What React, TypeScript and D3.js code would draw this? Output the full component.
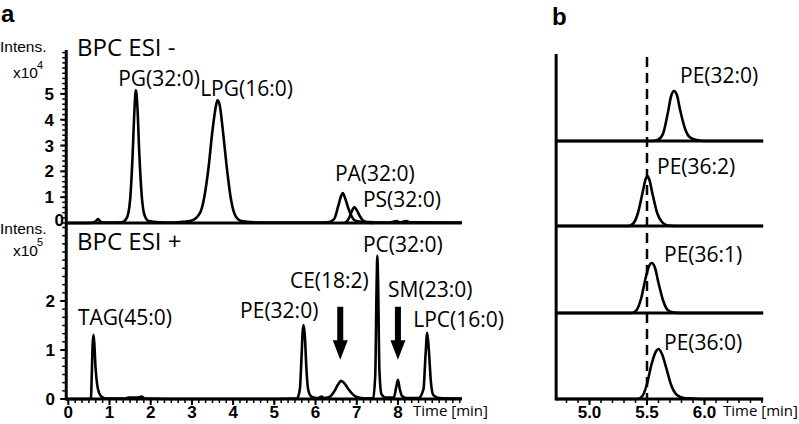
import React from "react";
import * as d3 from "d3";

// ---------- DATA ----------
// Panel a, top trace: BPC ESI - (time [min], intensity x10^4)
const esiNeg: [number, number][] = [
  [-0.05, 0], [0.5, 0], [0.65, 0.05], [0.72, 0.15], [0.8, 0.03], [1.0, 0.02], [1.3, 0.03],
  [1.42, 0.2], [1.5, 0.9], [1.56, 2.6], [1.6, 4.2], [1.64, 5.15], [1.68, 4.4], [1.72, 2.8],
  [1.78, 1.1], [1.85, 0.3], [1.95, 0.08], [2.2, 0.03], [2.6, 0.02], [2.8, 0.05], [3.0, 0.1],
  [3.2, 0.4], [3.3, 1.0], [3.4, 2.1], [3.5, 3.6], [3.58, 4.5], [3.62, 4.75], [3.67, 4.6],
  [3.75, 3.6], [3.85, 2.1], [3.95, 0.9], [4.05, 0.3], [4.2, 0.08], [4.5, 0.03], [5.0, 0.02],
  [5.5, 0.02], [6.0, 0.02], [6.3, 0.03], [6.45, 0.15], [6.55, 0.65], [6.62, 1.05], [6.66, 1.16],
  [6.72, 0.95], [6.8, 0.55], [6.88, 0.25], [6.95, 0.1], [7.1, 0.05], [7.4, 0.03], [7.8, 0.02],
  [7.97, 0.08], [8.05, 0.02], [8.2, 0.08], [8.3, 0.03], [9.55, 0.02],
];
// overlaid PS(32:0) trace
const esiNegPS: [number, number][] = [
  [6.72, 0], [6.8, 0.15], [6.88, 0.45], [6.94, 0.62], [7.0, 0.5], [7.08, 0.25], [7.15, 0.1],
  [7.25, 0.03], [7.4, 0],
];
// Panel a, bottom trace: BPC ESI + (time [min], intensity x10^5)
const esiPos: [number, number][] = [
  [-0.05, 0], [0.5, 0], [0.55, 0.02], [0.57, 0.5], [0.59, 1.1], [0.61, 1.31], [0.63, 1.15],
  [0.66, 0.65], [0.7, 0.3], [0.75, 0.12], [0.82, 0.04], [0.9, 0.01], [1.4, 0.01], [1.45, 0.03],
  [1.7, 0.03], [1.78, 0.05], [1.85, 0.01], [2.5, 0], [5.0, 0], [5.55, 0.01], [5.62, 0.2],
  [5.66, 0.85], [5.69, 1.4], [5.71, 1.51], [5.74, 1.3], [5.78, 0.6], [5.82, 0.2], [5.9, 0.05],
  [6.05, 0.02], [6.15, 0.05], [6.2, 0.02], [6.35, 0.05], [6.45, 0.15], [6.55, 0.3], [6.62, 0.37],
  [6.7, 0.32], [6.8, 0.2], [6.9, 0.1], [7.0, 0.04], [7.2, 0.01], [7.4, 0.02], [7.45, 0.5],
  [7.48, 2.2], [7.5, 2.92], [7.52, 2.3], [7.55, 0.6], [7.6, 0.1], [7.7, 0.03], [7.9, 0.03],
  [7.96, 0.25], [8.0, 0.39], [8.04, 0.22], [8.1, 0.06], [8.2, 0.02], [8.5, 0.02], [8.62, 0.2],
  [8.67, 0.9], [8.71, 1.35], [8.75, 1.0], [8.8, 0.35], [8.86, 0.08], [9.0, 0.02], [9.55, 0.01],
];
// Panel b: extracted ion chromatograms (time [min], normalised intensity)
const bNames = ["PE(32:0)", "PE(36:2)", "PE(36:1)", "PE(36:0)"];
const bTraces: [number, number][][] = [
  [[4.71, 0], [5.55, 0], [5.6, 0.03], [5.64, 0.15], [5.68, 0.55], [5.71, 0.9], [5.735, 1.0],
   [5.76, 0.92], [5.79, 0.6], [5.83, 0.25], [5.87, 0.08], [5.93, 0.02], [6.0, 0], [6.51, 0]],
  [[4.71, 0], [5.34, 0], [5.38, 0.05], [5.42, 0.25], [5.46, 0.65], [5.49, 0.95], [5.505, 1.0],
   [5.52, 0.93], [5.55, 0.62], [5.59, 0.25], [5.63, 0.08], [5.68, 0.01], [5.75, 0], [6.51, 0]],
  [[4.71, 0], [5.37, 0], [5.41, 0.06], [5.45, 0.3], [5.49, 0.72], [5.52, 0.95], [5.54, 1.0],
   [5.57, 0.9], [5.6, 0.6], [5.64, 0.25], [5.68, 0.06], [5.73, 0.01], [5.8, 0], [6.51, 0]],
  [[4.71, 0], [5.42, 0], [5.46, 0.06], [5.5, 0.3], [5.54, 0.7], [5.58, 0.96], [5.6, 1.0],
   [5.63, 0.9], [5.67, 0.6], [5.71, 0.28], [5.76, 0.08], [5.82, 0.02], [5.9, 0.01], [6.0, 0], [6.51, 0]],
];
const xTicksA = [0, 1, 2, 3, 4, 5, 6, 7, 8];
const yTicksTop = [1, 2, 3, 4, 5];
const yTicksBot = [0, 1, 2];
const xTicksB = [5.0, 5.5, 6.0];
const labelsTop = [
  { text: "PG(32:0)", t: 1.21, v: 5.31 },
  { text: "LPG(16:0)", t: 3.2, v: 4.92 },
  { text: "PA(32:0)", t: 6.47, v: 1.63 },
  { text: "PS(32:0)", t: 7.15, v: 0.62 },
];
const labelsBot = [
  { text: "TAG(45:0)", t: 0.235, v: 1.51 },
  { text: "PE(32:0)", t: 4.17, v: 1.65 },
  { text: "CE(18:2)", t: 5.38, v: 2.27 },
  { text: "PC(32:0)", t: 7.15, v: 3.0 },
  { text: "SM(23:0)", t: 7.76, v: 2.08 },
  { text: "LPC(16:0)", t: 8.37, v: 1.47 },
];
const arrowTimes = [6.6, 8.0];
const bLabelPos = [
  { t: 5.787, v: 1.16 },
  { t: 5.587, v: 1.04 },
  { t: 5.648, v: 1.02 },
  { t: 5.648, v: 0.98 },
];
const refTime = 5.5;

// ---------- LAYOUT ----------
const W = 799, H = 424;
const LBL = "'Open Sans', sans-serif";
const NUM = "'Liberation Sans', Arial, sans-serif";

export default function App() {
  const xA = d3.scaleLinear().domain([0, 9.55]).range([68.3, 461.8]);
  const axL = xA(-0.05);
  const axR = xA(9.55);
  const yTop = d3.scaleLinear().domain([0, 6.7]).range([223, 50]);
  const yBot = d3.scaleLinear().domain([0, 3.53]).range([399, 226]);
  const xB = d3.scaleLinear().domain([5.0, 6.0]).range([589.5, 704.5]);
  const bBase = [141, 226, 313, 399];
  const bLeft = xB(4.71), bRight = xB(6.51);

  const lineTop = d3.line<[number, number]>().x(d => xA(d[0])).y(d => yTop(d[1])).curve(d3.curveMonotoneX);
  const lineBot = d3.line<[number, number]>().x(d => xA(d[0])).y(d => yBot(d[1])).curve(d3.curveMonotoneX);

  const minorX = d3.range(0, 9.55, 1 / 6);
  const minorYTop = d3.range(0, 6.7, 0.2);
  const minorYBot = d3.range(0, 3.53, 1 / 6);
  const minorXB = d3.range(4.8, 6.51, 0.1);

  const arrow = (t: number) => {
    const x = xA(t);
    const top = yBot(1.88), hs = yBot(1.2), tip = yBot(0.8);
    return `M${x - 3},${top} L${x + 3},${top} L${x + 3},${hs} L${x + 7.5},${hs} L${x},${tip} L${x - 7.5},${hs} L${x - 3},${hs} Z`;
  };

  return (
    <svg width={W} height={H} style={{ position: "absolute", left: 0, top: 0, background: "#fff" }}>
      <rect width={W} height={H} fill="#fff" />
      {/* panel letters */}
      <text x={1} y={22} fontFamily={NUM} fontWeight="bold" fontSize={24}>a</text>
      <text x={552} y={25} fontFamily={NUM} fontWeight="bold" fontSize={24}>b</text>

      {/* ---------- panel a ---------- */}
      {/* y axis */}
      <line x1={axL} x2={axL} y1={yTop(6.7)} y2={yBot(0) + 1.5} stroke="#000" strokeWidth={3} />
      {minorYTop.map((v, i) => (
        <line key={"mt" + i} x1={axL - 4} x2={axL} y1={yTop(v)} y2={yTop(v)} stroke="#000" strokeWidth={1.5} />
      ))}
      {minorYBot.map((v, i) => (
        <line key={"mb" + i} x1={axL - 4} x2={axL} y1={yBot(v)} y2={yBot(v)} stroke="#000" strokeWidth={1.5} />
      ))}
      {yTicksTop.map(v => (
        <g key={"yt" + v}>
          <line x1={axL - 6} x2={axL} y1={yTop(v)} y2={yTop(v)} stroke="#000" strokeWidth={2} />
          <text x={54} y={yTop(v)} dy="0.36em" textAnchor="end" fontFamily={NUM} fontWeight="bold" fontSize={17}>{v}</text>
        </g>
      ))}
      <text x={64} y={226} textAnchor="end" fontFamily={NUM} fontWeight="bold" fontSize={17}>0</text>
      {yTicksBot.map(v => (
        <g key={"yb" + v}>
          <line x1={axL - 6} x2={axL} y1={yBot(v)} y2={yBot(v)} stroke="#000" strokeWidth={2} />
          <text x={55} y={yBot(v)} dy="0.36em" textAnchor="end" fontFamily={NUM} fontWeight="bold" fontSize={17}>{v}</text>
        </g>
      ))}
      {/* Intens labels */}
      <text x={0} y={52} fontFamily={NUM} fontSize={15.5}>Intens.</text>
      <text x={13} y={78} fontFamily={NUM} fontSize={15.5}>x10</text>
      <text x={37} y={69} fontFamily={NUM} fontSize={11}>4</text>
      <text x={0} y={234} fontFamily={NUM} fontSize={15.5}>Intens.</text>
      <text x={13} y={256} fontFamily={NUM} fontSize={15.5}>x10</text>
      <text x={37} y={246} fontFamily={NUM} fontSize={11}>5</text>

      {/* baselines */}
      <line x1={axL} x2={axR} y1={yTop(0)} y2={yTop(0)} stroke="#000" strokeWidth={3} />
      <line x1={axL} x2={axR} y1={yBot(0)} y2={yBot(0)} stroke="#000" strokeWidth={3} />
      {/* x ticks */}
      {minorX.map((t, i) => (
        <line key={"mx" + i} x1={xA(t)} x2={xA(t)} y1={yBot(0)} y2={yBot(0) + 4} stroke="#000" strokeWidth={1.5} />
      ))}
      {xTicksA.map(t => (
        <g key={"xa" + t}>
          <line x1={xA(t)} x2={xA(t)} y1={yBot(0)} y2={yBot(0) + 6} stroke="#000" strokeWidth={2} />
          <text x={xA(t)} y={418} textAnchor="middle" fontFamily={NUM} fontWeight="bold" fontSize={17}>{t}</text>
        </g>
      ))}
      <text x={413} y={416} fontFamily={LBL} fontSize={15}>Time [min]</text>

      {/* traces */}
      <path d={lineTop(esiNeg) || ""} fill="none" stroke="#000" strokeWidth={2.6} strokeLinejoin="round" />
      <path d={lineTop(esiNegPS) || ""} fill="none" stroke="#000" strokeWidth={2.6} strokeLinejoin="round" />
      <path d={lineBot(esiPos) || ""} fill="none" stroke="#000" strokeWidth={2.6} strokeLinejoin="round" />

      {/* titles & labels */}
      <text x={77} y={56} fontFamily={LBL} fontWeight={500} fontSize={24}>BPC ESI -</text>
      <text x={77} y={250} fontFamily={LBL} fontWeight={500} fontSize={24}>BPC ESI +</text>
      {labelsTop.map(l => (
        <text key={l.text} x={xA(l.t)} y={yTop(l.v)} fontFamily={LBL} fontWeight={500} fontSize={21}>{l.text}</text>
      ))}
      {labelsBot.map(l => (
        <text key={l.text + "b"} x={xA(l.t)} y={yBot(l.v)} fontFamily={LBL} fontWeight={500} fontSize={21}>{l.text}</text>
      ))}
      {arrowTimes.map(t => (
        <path key={"ar" + t} d={arrow(t)} fill="#000" />
      ))}

      {/* ---------- panel b ---------- */}
      <line x1={bLeft} x2={bLeft} y1={54} y2={bBase[3] + 1.5} stroke="#000" strokeWidth={3} />
      {bTraces.map((tr, i) => {
        const y = d3.scaleLinear().domain([0, 1]).range([bBase[i], bBase[i] - 50]);
        const ln = d3.line<[number, number]>().x(d => xB(d[0])).y(d => y(d[1])).curve(d3.curveMonotoneX);
        return (
          <g key={"b" + i}>
            <line x1={bLeft} x2={bRight} y1={bBase[i]} y2={bBase[i]} stroke="#000" strokeWidth={3} />
            <path d={ln(tr) || ""} fill="none" stroke="#000" strokeWidth={2.6} />
            <text x={xB(bLabelPos[i].t)} y={y(bLabelPos[i].v)} fontFamily={LBL} fontWeight={500} fontSize={21}>{bNames[i]}</text>
          </g>
        );
      })}
      <line x1={xB(refTime)} x2={xB(refTime)} y1={57} y2={bBase[3]} stroke="#000" strokeWidth={2.5} strokeDasharray="10,6" />
      {minorXB.map((t, i) => (
        <line key={"mxb" + i} x1={xB(t)} x2={xB(t)} y1={bBase[3]} y2={bBase[3] + 4} stroke="#000" strokeWidth={1.5} />
      ))}
      {xTicksB.map(t => (
        <g key={"xb" + t}>
          <line x1={xB(t)} x2={xB(t)} y1={bBase[3]} y2={bBase[3] + 6} stroke="#000" strokeWidth={2} />
          <text x={xB(t)} y={418} textAnchor="middle" fontFamily={NUM} fontWeight="bold" fontSize={17}>{t.toFixed(1)}</text>
        </g>
      ))}
      <text x={723} y={416} fontFamily={LBL} fontSize={15}>Time [min]</text>
    </svg>
  );
}
